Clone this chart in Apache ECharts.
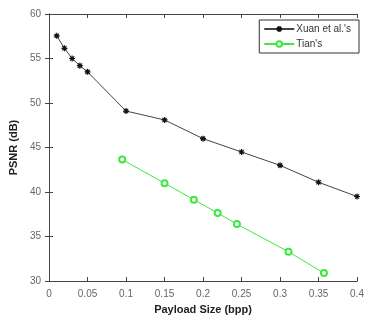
<!DOCTYPE html>
<html>
<head>
<meta charset="utf-8">
<style>
  html, body { margin: 0; padding: 0; background: #fff; }
  #chart { width: 367px; height: 320px; }
</style>
</head>
<body>
<div id="chart"></div>
<script src="https://cdn.jsdelivr.net/npm/echarts@6/dist/echarts.min.js"></script>
<script>
  var xuanX = [0.01, 0.02, 0.03, 0.04, 0.05, 0.1, 0.15, 0.2, 0.25, 0.3, 0.35, 0.4];
  var xuanY = [57.55, 56.15, 55.0, 54.2, 53.5, 49.1, 48.1, 46.0, 44.5, 43.0, 41.1, 39.5];
  var tianX = [0.095, 0.15, 0.188, 0.219, 0.244, 0.311, 0.357];
  var tianY = [43.65, 41.0, 39.15, 37.65, 36.4, 33.3, 30.9];
  var seriesNames = ["Xuan et al.'s", "Tian's"];

  function pairs(xs, ys) {
    return xs.map(function (x, i) { return [x, ys[i]]; });
  }

  var star = 'path://M5,0 L5,10 M0,5 L10,5 M1.5,1.5 L8.5,8.5 M8.5,1.5 L1.5,8.5';
  var tickFont = { color: '#666', fontSize: 10, fontFamily: 'Liberation Sans' };

  var chart = echarts.init(document.getElementById('chart'));
  chart.setOption({
    animation: false,
    backgroundColor: '#fff',
    grid: { left: 43, top: 14, right: 2, bottom: 33 },
    legend: {
      right: 8, top: 20,
      orient: 'vertical',
      itemGap: 5,
      itemWidth: 30, itemHeight: 7,
      padding: [4, 8, 4, 4],
      borderColor: '#333', borderWidth: 1,
      backgroundColor: '#fff',
      textStyle: { fontSize: 10, color: '#333', fontFamily: 'Liberation Sans', padding: [0, 0, 0, -3] },
      data: seriesNames
    },
    xAxis: [{
      type: 'value', min: 0, max: 0.4, interval: 0.05,
      name: 'Payload Size (bpp)', nameLocation: 'middle', nameGap: 20,
      nameTextStyle: { fontWeight: 'bold', fontSize: 11, color: '#222', fontFamily: 'Liberation Sans' },
      axisLine: { lineStyle: { color: '#444' } },
      axisTick: { inside: true, length: 4, lineStyle: { color: '#444' } },
      axisLabel: tickFont,
      splitLine: { show: false }
    }, {
      type: 'value', min: 0, max: 0.4, interval: 0.05, position: 'top',
      axisLine: { show: true, lineStyle: { color: '#444' } },
      axisTick: { inside: true, length: 4, lineStyle: { color: '#444' } },
      axisLabel: { show: false }, splitLine: { show: false }
    }],
    yAxis: [{
      type: 'value', min: 30, max: 60, interval: 5,
      name: 'PSNR (dB)', nameLocation: 'middle', nameGap: 24,
      nameTextStyle: { fontWeight: 'bold', fontSize: 11, color: '#222', fontFamily: 'Liberation Sans' },
      axisLine: { show: true, lineStyle: { color: '#444' } },
      axisTick: { show: true, inside: true, length: 4, lineStyle: { color: '#444' } },
      axisLabel: tickFont,
      splitLine: { show: false }
    }, {
      type: 'value', min: 30, max: 60, interval: 5, position: 'right',
      axisLine: { show: true, lineStyle: { color: '#444' } },
      axisTick: { show: true, inside: true, length: 4, lineStyle: { color: '#444' } },
      axisLabel: { show: false }, splitLine: { show: false }
    }],
    series: [{
      name: seriesNames[0], type: 'line',
      data: pairs(xuanX, xuanY),
      symbol: star, symbolSize: 6,
      lineStyle: { color: '#444', width: 1 },
      itemStyle: { color: '#111', borderColor: '#111', borderWidth: 1.2 }
    }, {
      name: seriesNames[1], type: 'line',
      data: pairs(tianX, tianY),
      symbol: 'emptyCircle', symbolSize: 6,
      lineStyle: { color: '#3ee83e', width: 1 },
      itemStyle: { color: '#3ee83e', borderColor: '#3ee83e', borderWidth: 1.2 }
    }]
  });
</script>
</body>
</html>
